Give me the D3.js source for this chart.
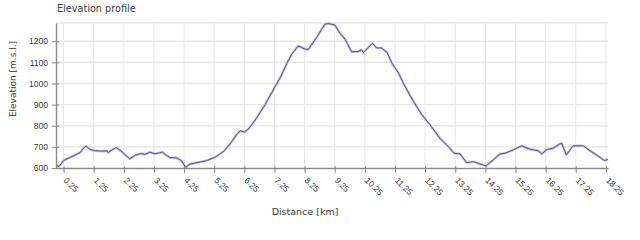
<!DOCTYPE html>
<html>
<head>
<meta charset="utf-8">
<script src="https://cdn.jsdelivr.net/npm/d3@7"></script>
<style>
    body { margin: 0; background: #fff; }
    svg { display: block; font-family: "DejaVu Sans", sans-serif; }
</style>
</head>
<body>
<svg id="chart" width="640" height="240"></svg>
<script>
// profile: distance in km, elevation in m
const distanceKm = [
    0.00, 0.10, 0.25, 0.47, 0.80, 0.95, 1.00, 1.13, 1.28, 1.47, 1.69, 1.73, 1.86, 2.00, 2.20, 2.44,
    2.63, 2.79, 2.96, 3.12, 3.29, 3.53, 3.66, 3.79, 4.00, 4.18, 4.30, 4.45, 4.78, 5.00, 5.28, 5.56,
    5.78, 5.99, 6.11, 6.25, 6.39, 6.66, 6.94, 7.28, 7.44, 7.66, 7.82, 8.04, 8.27, 8.38, 8.65, 8.93,
    9.06, 9.26, 9.42, 9.59, 9.81, 10.03, 10.14, 10.20, 10.50, 10.64, 10.81, 10.99, 11.14, 11.36, 11.58, 11.86,
    12.14, 12.41, 12.74, 13.07, 13.21, 13.41, 13.63, 13.85, 14.01, 14.27, 14.51, 14.74, 14.90, 15.18, 15.45, 15.73,
    16.00, 16.12, 16.28, 16.50, 16.72, 16.78, 16.94, 17.16, 17.50, 17.72, 17.99, 18.21, 18.32
];
const elevationM = [
    612, 607, 635, 650, 673, 700, 703, 688, 682, 680, 681, 673, 685, 697, 675, 644,
    660, 668, 665, 675, 667, 675, 660, 649, 648, 633, 603, 619, 628, 635, 651, 678,
    714, 757, 776, 770, 784, 837, 900, 987, 1027, 1094, 1138, 1178, 1162, 1162, 1218, 1281,
    1283, 1276, 1238, 1210, 1150, 1151, 1159, 1146, 1190, 1168, 1168, 1146, 1098, 1051, 987, 916,
    852, 805, 741, 694, 670, 667, 625, 630, 622, 610, 638, 667, 670, 686, 705, 689,
    682, 667, 686, 694, 714, 717, 662, 705, 705, 682, 657, 635, 641
];
const xTickValues = [0.25, 1.25, 2.25, 3.25, 4.25, 5.25, 6.25, 7.25, 8.25, 9.25, 10.25, 11.25, 12.25, 13.25, 14.25, 15.25, 16.25, 17.25, 18.25];
const yTickValues = [600, 700, 800, 900, 1000, 1100, 1200];
const xDomain = [0, 18.32];
const yDomain = [600, 1286];

const COLOURS = {
    GRID: "#e6e6e6",
    AXIS: "#8a8a8a",
    TEXT: "#3a3a3a",
    HALO: "#c4c4e4",
    LINE: "#46467a"
};

const plot = {left: 56, right: 608, top: 23, bottom: 168};

const svg = d3.select("#chart");
const points = distanceKm.map((d, i) => ({km: d, elev: elevationM[i]}));

const x = d3.scaleLinear().domain(xDomain).range([plot.left, plot.right]);
const y = d3.scaleLinear().domain(yDomain).range([plot.bottom, plot.top]);

// grid
svg.append("g")
    .selectAll("line")
    .data(xTickValues)
    .join("line")
    .attr("x1", d => x(d)).attr("x2", d => x(d))
    .attr("y1", plot.top).attr("y2", plot.bottom)
    .attr("stroke", COLOURS.GRID);

svg.append("g")
    .selectAll("line")
    .data(yTickValues.slice(1).concat([yDomain[1]]))
    .join("line")
    .attr("x1", plot.left).attr("x2", plot.right)
    .attr("y1", d => y(d)).attr("y2", d => y(d))
    .attr("stroke", COLOURS.GRID)
    .attr("stroke-width", 1.4);

// profile line: light halo under a thin dark core
const line = d3.line()
    .x(d => x(d.km))
    .y(d => y(d.elev));

svg.append("path")
    .datum(points)
    .attr("fill", "none")
    .attr("stroke", COLOURS.HALO)
    .attr("stroke-width", 2.6)
    .attr("stroke-linejoin", "round")
    .attr("d", line);

svg.append("path")
    .datum(points)
    .attr("fill", "none")
    .attr("stroke", COLOURS.LINE)
    .attr("stroke-width", 0.9)
    .attr("stroke-linejoin", "round")
    .attr("d", line);

// axes
const xAxis = svg.append("g")
    .attr("transform", `translate(0,${plot.bottom})`)
    .call(d3.axisBottom(x).tickValues(xTickValues).tickFormat(d3.format(".2f")).tickSizeOuter(0).tickSizeInner(5));

xAxis.select(".domain").attr("stroke", COLOURS.AXIS).attr("stroke-width", 1.4);
xAxis.selectAll(".tick line").attr("stroke", COLOURS.AXIS).attr("y1", -2);
xAxis.selectAll(".tick text")
    .attr("x", 0).attr("y", 0).attr("dy", 0)
    .attr("transform", "translate(-1,13) rotate(45)")
    .attr("text-anchor", "start")
    .attr("fill", COLOURS.TEXT)
    .style("font-size", "8.5px");

const yAxis = svg.append("g")
    .attr("transform", `translate(${plot.left},0)`)
    .call(d3.axisLeft(y).tickValues(yTickValues).tickFormat(d3.format("d")).tickSizeOuter(0).tickSizeInner(4).tickPadding(4));

yAxis.select(".domain").attr("stroke", COLOURS.AXIS).attr("stroke-width", 1.4);
yAxis.selectAll(".tick line").attr("stroke", COLOURS.AXIS).attr("x2", 3).attr("x1", -4);
yAxis.selectAll(".tick text")
    .attr("fill", COLOURS.TEXT)
    .style("font-size", "8.5px");

svg.selectAll(".tick text").attr("font-family", null);

// titles
svg.append("text")
    .attr("x", 57).attr("y", 12)
    .attr("fill", COLOURS.TEXT)
    .style("font-size", "9.7px")
    .text("Elevation profile");

svg.append("text")
    .attr("transform", "translate(16,79) rotate(-90)")
    .attr("text-anchor", "middle")
    .attr("fill", COLOURS.TEXT)
    .style("font-size", "9px")
    .text("Elevation [m.s.l.]");

svg.append("text")
    .attr("x", 305).attr("y", 215)
    .attr("text-anchor", "middle")
    .attr("fill", COLOURS.TEXT)
    .style("font-size", "9.5px")
    .text("Distance [km]");
</script>
</body>
</html>
